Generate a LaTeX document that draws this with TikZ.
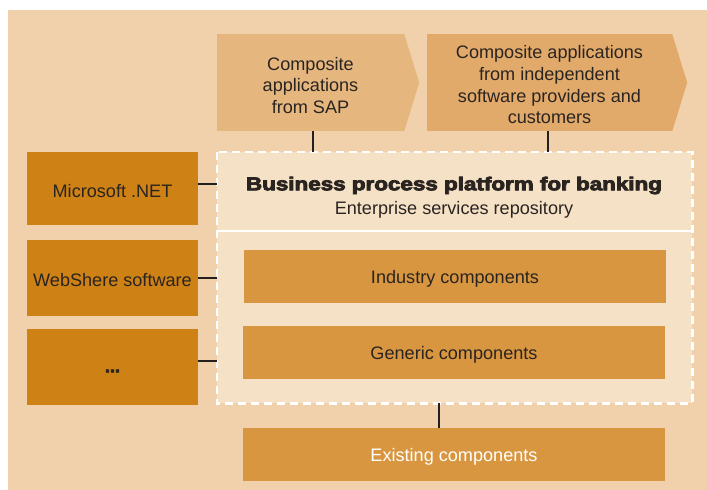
\documentclass[tikz,border=0pt]{standalone}
\usepackage{fontspec}
\setmainfont{Liberation Sans}
\newfontfamily\heavyfont{Liberation Sans}[UprightFont={* Bold}, UprightFeatures={FakeBold=4}]
\usepackage{graphicx}
\definecolor{bgc}{HTML}{F1D1AC}
\definecolor{platc}{HTML}{F5E1C6}
\definecolor{leftc}{HTML}{CE8115}
\definecolor{innerc}{HTML}{D99640}
\definecolor{arrowa}{HTML}{E5B77F}
\definecolor{arrowb}{HTML}{E2AA6A}
\definecolor{txtc}{HTML}{2A2421}
\definecolor{linec}{HTML}{231F1E}
\begin{document}
\begin{tikzpicture}[x=1pt,y=-1pt,
  every node/.style={inner sep=0pt},
  txt/.style={font=\fontsize{18.1}{21.6}\selectfont, text=txtc, align=center, yshift=-2.5pt},
  leftbox/.style={fill=leftc, minimum width=171pt},
  innerbox/.style={fill=innerc, minimum width=422pt, minimum height=53pt},
  conn/.style={draw=linec, line width=2.2pt}
]
\useasboundingbox (0,0) rectangle (707,490);
\fill[bgc] (8,10) rectangle (707,490);

% top composite application arrows
\node[fill=arrowa, minimum width=187pt, minimum height=97pt] (sap) at (310.5,82.75) {};
\fill[arrowa] (sap.north east) -- ++(15,48.5) -- (sap.south east) -- cycle;
\node[txt] (sapT) at (sap.center) {Composite\\applications\\from SAP};
\node[fill=arrowb, minimum width=245pt, minimum height=97pt] (isv) at (549.5,82.75) {};
\fill[arrowb] (isv.north east) -- ++(15,48.5) -- (isv.south east) -- cycle;
\node[txt, yshift=0.5pt] (isvT) at (isv.center) {Composite applications\\from independent\\software providers and\\customers};

% platform
\node[fill=platc, minimum width=475pt, minimum height=251pt] (plat) at (454.5,277.5) {};
\draw[white, line width=2.5pt] (217,231) -- (692,231);
\draw[white, line width=2.6pt, dash pattern=on 8pt off 5pt] (plat.north west) rectangle (plat.south east);
\node[txt] (title) at (454,183) {\fontsize{18.6}{21.6}\heavyfont\scalebox{1.205}[1]{Business process platform for banking}};
\node[txt] (esr) at (454,207) {Enterprise services repository};

\node[innerbox] (ind) at (455,276.5) {};
\node[txt] (indT) at (ind.center) {Industry components};
\node[innerbox] (gen) at (454,352.5) {};
\node[txt] (genT) at (gen.center) {Generic components};
\node[innerbox] (exist) at (454,454.5) {};
\node[txt, text=white] (existT) at (exist.center) {Existing components};

% left boxes
\node[leftbox, minimum height=73pt] (net) at (112.5,188.5) {};
\node[txt] (netT) at (net.center) {Microsoft .NET};
\node[leftbox, minimum height=76pt] (web) at (112.5,278) {};
\node[txt] (webT) at (web.center) {WebShere software};
\node[leftbox, minimum height=76pt] (dots) at (112.5,367) {};
\node[txt, yshift=-1.5pt] (dotsT) at (dots.center) {\heavyfont ...};

% connectors
\draw[conn] ([xshift=2.5pt]sap.south) -- ([xshift=2.5pt]sap.south |- plat.north);
\draw[conn] ([xshift=-1.5pt]isv.south) -- ([xshift=-1.5pt]isv.south |- plat.north);
\draw[conn] ([yshift=4.5pt]net.east) -- ([yshift=4.5pt]net.east -| plat.west);
\draw[conn] (web.east) -- (web.east -| plat.west);
\draw[conn] ([yshift=6pt]dots.east) -- ([yshift=6pt]dots.east -| plat.west);
\draw[conn] ([xshift=-15pt]exist.north) -- ([xshift=-15pt]exist.north |- plat.south);
\end{tikzpicture}
\end{document}
